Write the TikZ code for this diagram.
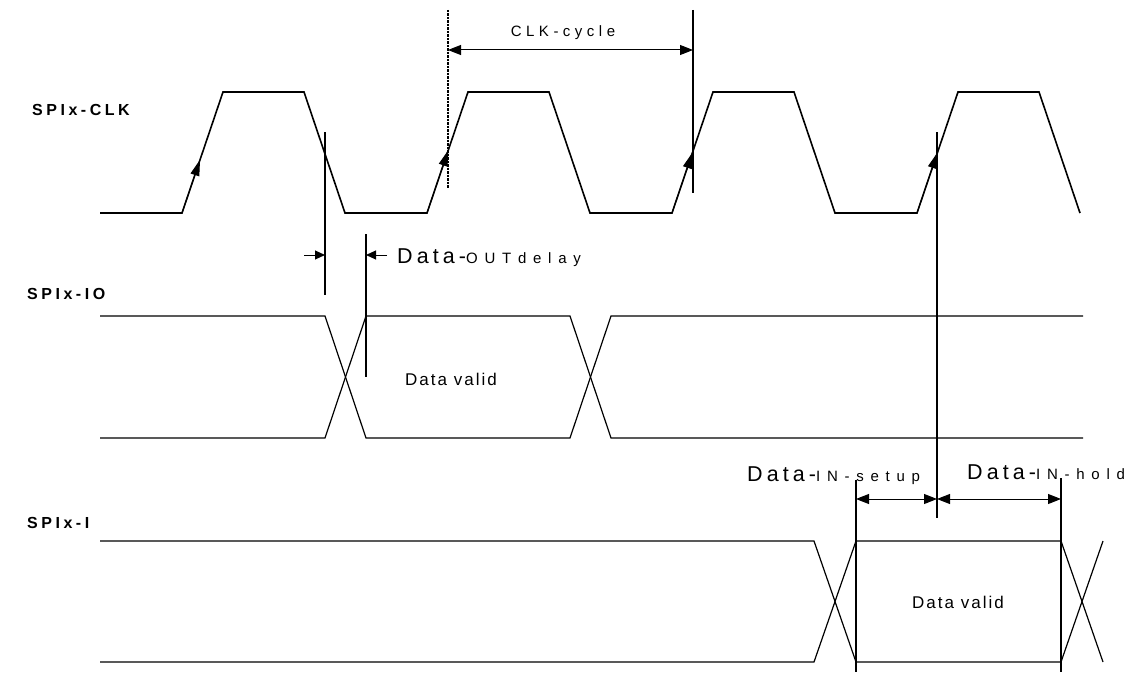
\documentclass[tikz,border=0pt]{standalone}
\usepackage{fontspec}
\setmainfont{Liberation Sans}
\usetikzlibrary{arrows.meta}
\newcommand\bigsp[1]{{\fontsize{21.5}{24}\selectfont\addfontfeature{LetterSpace=19}#1}}
\newcommand\smsp[1]{{\fontsize{15}{17}\selectfont\addfontfeature{LetterSpace=45}#1}}
\newcommand\lblsp[1]{{\fontsize{15}{18}\selectfont\addfontfeature{LetterSpace=30}#1}}
\newcommand\namesp[1]{{\fontsize{16}{18}\selectfont\addfontfeature{LetterSpace=22}#1}}
\newcommand\validsp[1]{{\fontsize{17}{19}\selectfont\addfontfeature{LetterSpace=12}#1}}
\begin{document}
\begin{tikzpicture}[x=1pt,y=-1pt,
  every node/.style={inner sep=0pt},
  wave/.style={line width=1.6pt},
  bus/.style={line width=1.2pt},
  marker/.style={line width=1.3pt},
  dim/.style={line width=1pt,{Triangle[length=13pt,width=10pt]}-{Triangle[length=13pt,width=10pt]}},
  tick/.style={line width=1pt,-{Triangle[length=16pt,width=9pt]}},
  small tick/.style={line width=1pt,-{Triangle[length=10pt,width=9pt]}},
  signame/.style={anchor=base west,font=\bfseries}]
  \useasboundingbox (0,0) rectangle (1128,677);
  % signal names
  \node[signame] (clkname) at (32,115) {\namesp{SPIx-CLK}};
  \node[signame] (ioname) at (27,299) {\namesp{SPIx-IO}};
  \node[signame] (iname) at (27,528) {\namesp{SPIx-I}};
  % clock
  \draw[wave] (100,213) \foreach \k in {0,...,3} {
    -- ({182+245*\k},213) -- ({223+245*\k},92) -- ({304+245*\k},92) -- ({345+245*\k},213)};
  \foreach \k/\t in {0/0.44,1/0.52,2/0.5,3/0.5}
    \draw[tick] ({182+245*\k},213) -- ({182+245*\k+41*\t},{213-121*\t});
  % SPIx-IO bus
  \draw[bus] (100,316) -- (325,316) -- (366,438) -- (570,438) -- (611,316) -- (1083,316);
  \draw[bus] (100,438) -- (325,438) -- (366,316) -- (570,316) -- (611,438) -- (1083,438);
  \node[anchor=base] (iovalid) at (451,385) {\validsp{Data valid}};
  % SPIx-I bus
  \draw[bus] (100,541) -- (814,541) -- (856,662) -- (1061,662) -- (1103,541);
  \draw[bus] (100,662) -- (814,662) -- (856,541) -- (1061,541) -- (1103,662);
  \node[anchor=base] (ivalid) at (958,608) {\validsp{Data valid}};
  % CLK-cycle
  \coordinate (cyca) at (448,50);
  \coordinate (cycb) at (693,50);
  \draw[line width=2pt,dash pattern=on 2.5pt off 1pt] (448,10) -- (448,188);
  \draw[marker] (693,10) -- (693,193);
  \draw[dim] (cyca) -- (cycb);
  \node[anchor=base] (cycle) at (563,37) {\lblsp{CLK-cycle}};
  % Data-OUTdelay
  \coordinate (outa) at (325,255);
  \coordinate (outb) at (366,255);
  \draw[marker] (325,132) -- (325,295);
  \draw[marker] (366,234) -- (366,377);
  \draw[small tick] (304,255) -- (outa);
  \draw[small tick] (387,255) -- (outb);
  \node[anchor=base west] (outdelay) at (397,263) {\bigsp{Data-}\smsp{OUTdelay}};
  % Data-IN setup / hold
  \coordinate (sa) at (856,499);
  \coordinate (sb) at (937,499);
  \coordinate (sc) at (1061,499);
  \draw[marker] (937,132) -- (937,518);
  \draw[marker] (856,480) -- (856,672);
  \draw[marker] (1061,478) -- (1061,672);
  \draw[dim] (sa) -- (sb);
  \draw[dim] (sb) -- (sc);
  \node[anchor=base west] (setup) at (747,481) {\bigsp{Data-}\smsp{IN-setup}};
  \node[anchor=base west] (hold) at (967,479) {\bigsp{Data-}\smsp{IN-hold}};
\end{tikzpicture}
\end{document}
